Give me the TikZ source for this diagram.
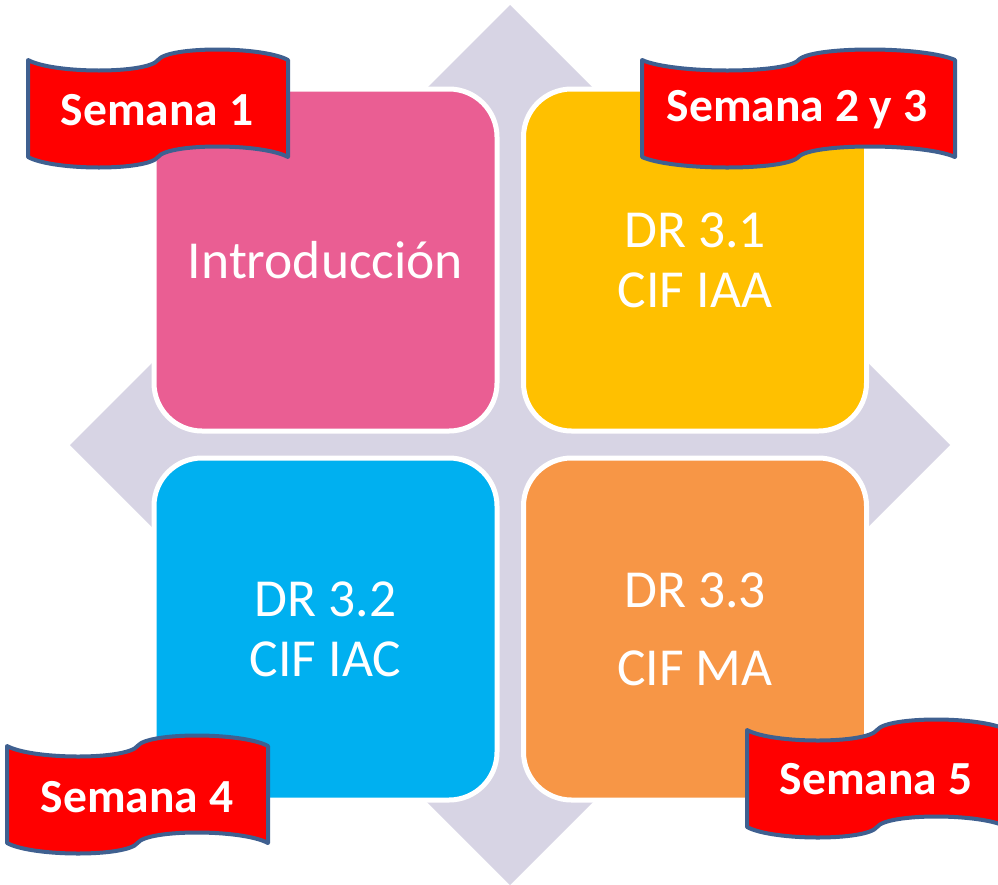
\documentclass[tikz,border=0pt]{standalone}
\usepackage{fontspec}
\setmainfont{Carlito}
\definecolor{diamondc}{HTML}{D7D4E4}
\definecolor{pinkc}{HTML}{EA5E93}
\definecolor{goldc}{HTML}{FFC000}
\definecolor{bluec}{HTML}{00B0F0}
\definecolor{orangec}{HTML}{F79646}
\definecolor{outlinec}{HTML}{3F6090}
\definecolor{redc}{HTML}{FF0000}
\tikzset{
  quad/.style={draw=white, line width=5pt, rounded corners=48pt,
    minimum width=343pt, minimum height=342pt, inner sep=0pt,
    text=white, align=center, font=\fontsize{53.5}{60}\selectfont},
  bannerfill/.style={fill=redc, draw=outlinec, line width=4pt, line join=round},
  bantext/.style={text=white, inner sep=0pt, font=\bfseries\fontsize{47.5}{54}\selectfont}
}
\newcommand{\wavepath}{(0,0) .. controls (10,14) and (46,14) .. (50,0) .. controls (54,-14) and (90,-14) .. (100,0) -- (100,97) .. controls (90,83) and (54,83) .. (50,97) .. controls (46,111) and (10,111) .. (0,97) -- cycle}
\begin{document}
\begin{tikzpicture}[x=1pt,y=-1pt]
\clip (0,0) rectangle (998,884);
\fill[white] (0,0) rectangle (998,884);
% background diamond
\fill[diamondc] (510,5) -- (950,445) -- (510,885) -- (70,445) -- cycle;
% quadrants
\node[quad, fill=pinkc] (intro) at (325.5,260) {Introducción};
\node[quad, fill=goldc] (dr31) at (695,260) {DR 3.1\\CIF IAA};
\node[quad, fill=bluec] (dr32) at (325.5,629) {DR 3.2\\CIF IAC};
\node[quad, fill=orangec, font=\fontsize{53.5}{78}\selectfont] (dr33) at (695,629) {DR 3.3\\CIF MA};
% banners
\begin{scope}[shift={(28,60)}, xscale=2.60]
  \draw[bannerfill] \wavepath;
\end{scope}
\node[bantext] (s1) at (157,110) {Semana 1};
\begin{scope}[shift={(642,60)}, xscale=3.13]
  \draw[bannerfill] \wavepath;
\end{scope}
\node[bantext] (s23) at (797,110) {Semana 2 y 3};
\begin{scope}[shift={(7,746)}, xscale=2.61]
  \draw[bannerfill] \wavepath;
\end{scope}
\node[bantext] (s4) at (137,797) {Semana 4};
\begin{scope}[shift={(747,730)}, xscale=2.60]
  \draw[bannerfill] \wavepath;
\end{scope}
\node[bantext] (s5) at (876,779) {Semana 5};
\end{tikzpicture}
\end{document}
